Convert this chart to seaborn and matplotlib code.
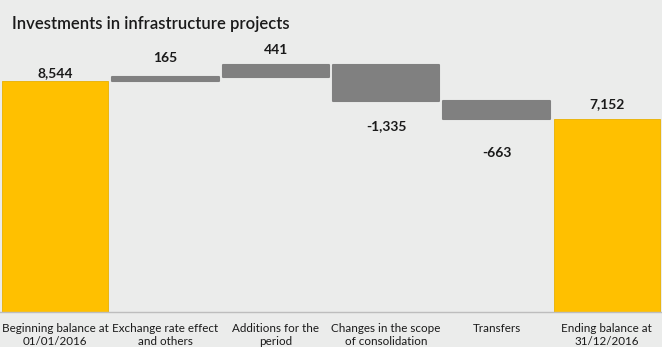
import matplotlib
matplotlib.use("Agg")
import matplotlib.pyplot as plt
import seaborn as sns
import numpy as np
import pandas as pd

categories = ["Beginning balance at\n01/01/2016", "Exchange rate effect\nand others",
              "Additions for the\nperiod", "Changes in the scope\nof consolidation",
              "Transfers", "Ending balance at\n31/12/2016"]
values = [8544, 165, 441, -1335, -663, 7152]
is_total = [True, False, False, False, False, True]
value_labels = ["8,544", "165", "441", "-1,335", "-663", "7,152"]

# label offsets in pixels (style only)
label_offset_px = [8, 19, 15, 25, 34, 14]

BG = "#EBECEB"
YELLOW = "#FFC000"
GRAY = "#808080"

sns.set_theme(style="white")
plt.rcParams["font.family"] = ["Lato", "DejaVu Sans"]

# compute waterfall bottoms / heights
bottoms, heights = [], []
running = 0
for v, tot in zip(values, is_total):
    if tot:
        bottoms.append(0)
        heights.append(v)
        running = v
    else:
        if v >= 0:
            bottoms.append(running)
            heights.append(v)
        else:
            bottoms.append(running + v)
            heights.append(-v)
        running += v

df = pd.DataFrame({"category": categories, "height": heights, "bottom": bottoms})

fig = plt.figure(figsize=(6.62, 3.47), dpi=100, facecolor=BG)
ax = fig.add_axes([0, (347 - 311.5) / 347, 1, 311.5 / 347])
ax.set_facecolor(BG)

sns.barplot(data=df, x="category", y="height", bottom=df["bottom"].values,
            width=0.965, ax=ax, color=GRAY, linewidth=0, saturation=1)

for p, tot in zip(ax.patches, is_total):
    if tot:
        p.set_facecolor(YELLOW)
        p.set_edgecolor("#E8B000")
        p.set_linewidth(0.6)
    else:
        p.set_facecolor(GRAY)
        p.set_edgecolor(GRAY)
        p.set_linewidth(1.5)
        p.set_joinstyle("round")

ax.set_xlim(-0.5, len(categories) - 0.5)
ax.set_ylim(0, 311.5 / (230.5 / 8544))

for s in ["top", "left", "right"]:
    ax.spines[s].set_visible(False)
ax.spines["bottom"].set_color("#BDBDBD")
ax.spines["bottom"].set_linewidth(1)
ax.set_yticks([])
ax.set_xlabel("")
ax.set_ylabel("")
ax.tick_params(axis="x", which="major", length=0, pad=8.5, labelsize=8.4, labelcolor="#1a1a1a")
ax.set_xticks(np.arange(0.5, len(categories) - 0.5, 1), minor=True)
ax.tick_params(axis="x", which="minor", length=3, width=1, color="#BDBDBD", direction="out")
for t in ax.get_xticklabels():
    t.set_linespacing(1.2)

# value labels
for i, (v, b, h, lab, off) in enumerate(zip(values, bottoms, heights, value_labels, label_offset_px)):
    if v >= 0:
        y = b + h
        dy = off
    else:
        y = b
        dy = -off
    ax.annotate(lab, (i, y), xytext=(0, dy * 72 / 100), textcoords="offset points",
                ha="center", va="center", fontsize=10, fontweight="bold", color="#1a1a1a")

fig.text(12 / 662, 1 - 24 / 347, "Investments in infrastructure projects", ha="left", va="center",
         fontsize=12, fontweight="semibold", color="#1a1a1a")

fig.savefig("out.png", dpi=100, facecolor=BG)
